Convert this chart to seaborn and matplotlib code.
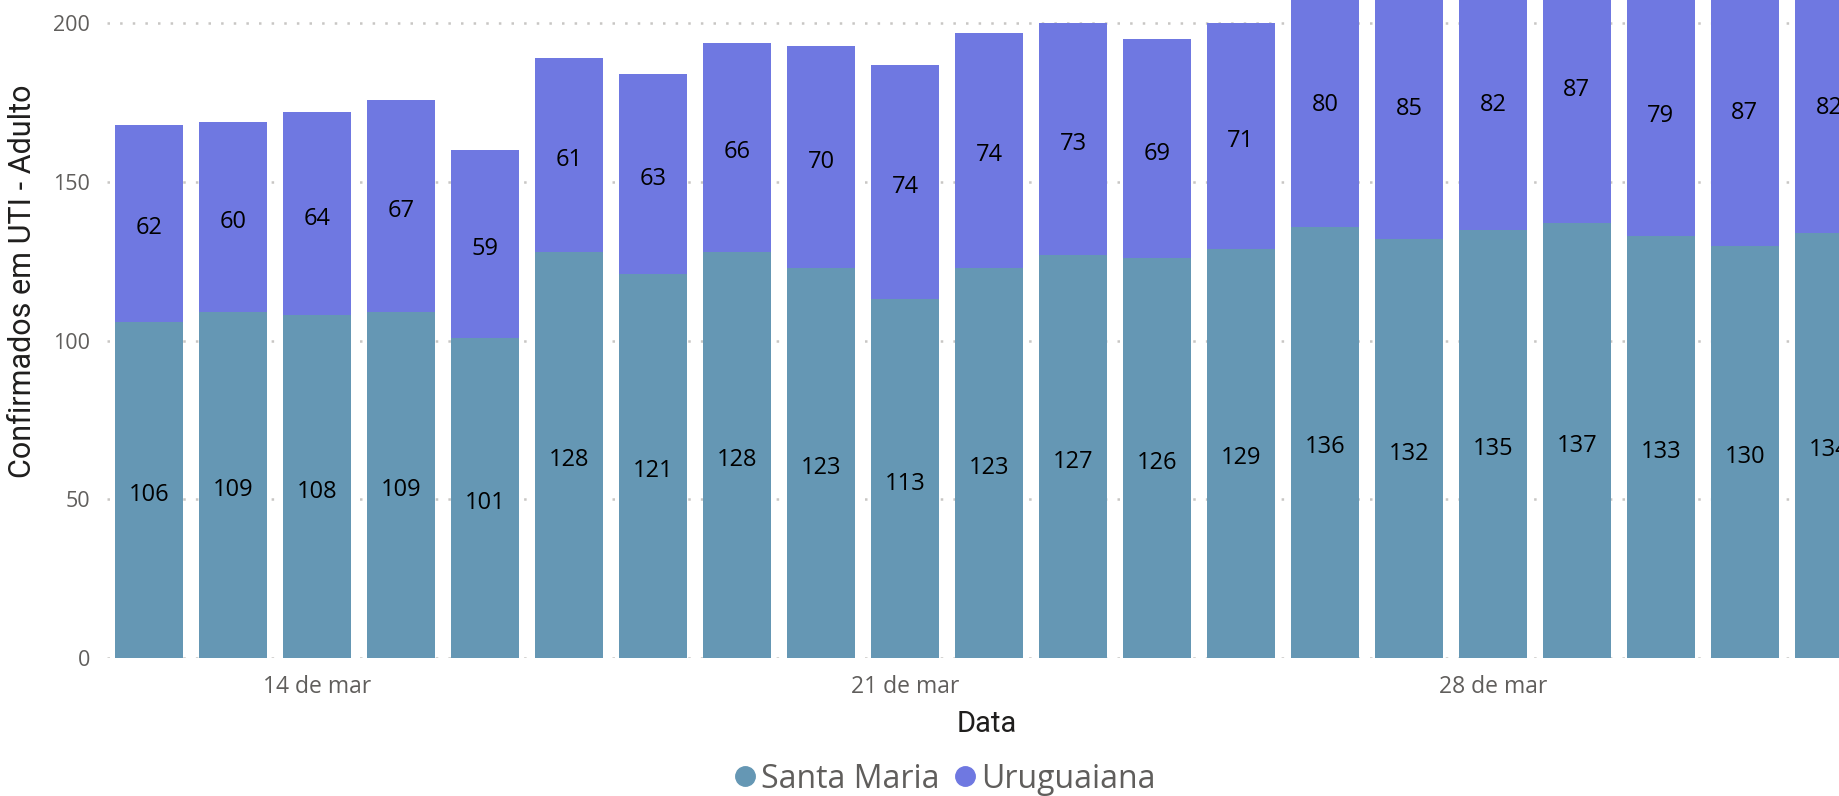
import numpy as np
import pandas as pd
import matplotlib
matplotlib.use("Agg")
import matplotlib.pyplot as plt
from matplotlib.lines import Line2D
import matplotlib.transforms as mtransforms
import seaborn as sns

# ---- data ----
dates = ["12/03", "13/03", "14/03", "15/03", "16/03", "17/03", "18/03", "19/03",
         "20/03", "21/03", "22/03", "23/03", "24/03", "25/03", "26/03", "27/03",
         "28/03", "29/03", "30/03", "31/03", "01/04"]
santa_maria = [106, 109, 108, 109, 101, 128, 121, 128, 123, 113, 123, 127, 126,
               129, 136, 132, 135, 137, 133, 130, 134]
uruguaiana = [62, 60, 64, 67, 59, 61, 63, 66, 70, 74, 74, 73, 69, 71, 80, 85,
              82, 87, 79, 87, 82]
tick_dates = ["14/03", "21/03", "28/03"]
tick_labels = ["14 de mar", "21 de mar", "28 de mar"]
y_ticks = [0, 50, 100, 150, 200]
series_names = ["Santa Maria", "Uruguaiana"]

# ---- style ----
c_sm = "#6597B4"
c_ur = "#6F78E1"
c_tick = "#605E5C"
c_title = "#1F1E1D"
c_grid = "#C8C6C4"

sns.set_theme(style="white")
plt.rcParams["font.family"] = ["Open Sans", "DejaVu Sans"]

df = pd.DataFrame({"Data": dates, "Santa Maria": santa_maria, "Uruguaiana": uruguaiana})
df["Total"] = df["Santa Maria"] + df["Uruguaiana"]

W, H = 1839, 796
fig = plt.figure(figsize=(W / 100, H / 100), dpi=100)
ax_left, ax_bottom_px = 107, 658
ax = fig.add_axes([ax_left / W, 1 - ax_bottom_px / H, 1 - ax_left / W, ax_bottom_px / H])

sns.barplot(data=df, x="Data", y="Total", color=c_ur, width=0.81, saturation=1,
            ax=ax, zorder=2, linewidth=0, edgecolor="none")
sns.barplot(data=df, x="Data", y="Santa Maria", color=c_sm, width=0.81, saturation=1,
            ax=ax, zorder=3, linewidth=0, edgecolor="none")

ax.set_ylim(0, 207.4)
ax.set_xlim(-0.5, 20.12)

# gridlines
ax.set_yticks(y_ticks)
ax.yaxis.grid(True, linestyle=(0, (1, 4.05)), linewidth=1.8, color=c_grid, zorder=0)
ax.xaxis.grid(False)
ax.set_axisbelow(True)
for s in ax.spines.values():
    s.set_visible(False)

ax.tick_params(axis="y", length=0, pad=12, labelsize=15.5, labelcolor=c_tick)
pos = [dates.index(d) for d in tick_dates]
ax.set_xticks(pos)
ax.set_xticklabels(tick_labels)
ax.tick_params(axis="x", length=0, pad=12, labelsize=16.5, labelcolor=c_tick)

# data labels (slightly lowered to centre the digits visually)
off = mtransforms.offset_copy(ax.transData, fig=fig, x=0, y=-5, units="dots")
for i, (a, b) in enumerate(zip(santa_maria, uruguaiana)):
    ax.text(i, a / 2, str(a), ha="center", va="center", fontsize=17, color="black",
            zorder=5, transform=off)
    ax.text(i, a + b / 2, str(b), ha="center", va="center", fontsize=17, color="black",
            zorder=5, transform=off)

# axis titles
ax.set_ylabel("Confirmados em UTI - Adulto", fontsize=22, color=c_title,
              fontfamily=["Roboto", "DejaVu Sans"])
ax.yaxis.label.set_va("center")
ax.yaxis.set_label_coords(-84 / 1732, (658 - 281) / 658)
ax.set_xlabel("Data", fontsize=21, color=c_title, fontfamily=["Roboto", "DejaVu Sans"])
ax.xaxis.label.set_va("center")
ax.xaxis.set_label_coords((987 - 107) / 1732, -(724 - 658) / 658)

handles = [Line2D([], [], marker="o", linestyle="", markersize=14, color=c)
           for c in (c_sm, c_ur)]
leg = fig.legend(handles, series_names, loc="center", ncol=2,
                 bbox_to_anchor=(942 / W, 1 - 779 / H), frameon=False,
                 handletextpad=0.0, columnspacing=0.3, handlelength=1.0,
                 prop={"size": 23})
for t in leg.get_texts():
    t.set_color(c_tick)

fig.savefig("out.png", dpi=100)
